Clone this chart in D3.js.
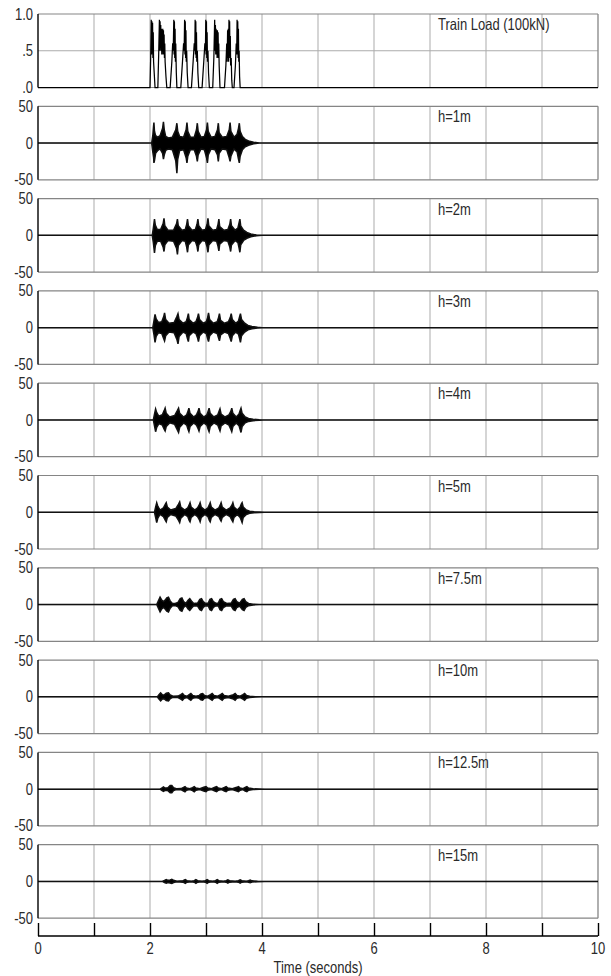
<!DOCTYPE html>
<html><head><meta charset="utf-8">
<script src="https://cdn.jsdelivr.net/npm/d3@7"></script>
<style>
body{margin:0;background:#fff;}
svg{display:block;}
text{font-family:"Liberation Sans",Arial,sans-serif;}
</style></head>
<body>
<script>
// ---------------- DATA ----------------
const panelLabels = ["Train Load (100kN)","h=1m","h=2m","h=3m","h=4m","h=5m","h=7.5m","h=10m","h=12.5m","h=15m"];
const xTicks = [0,1,2,3,4,5,6,7,8,9,10];
const xTickLabels = ["0","","2","","4","","6","","8","","10"];
const loadTicks = [0,0.5,1];
const loadTickLabels = [".0",".5","1.0"];
const respTicks = [-50,0,50];
const respTickLabels = ["-50","0","50"];

// train load (t [s], load [100kN])
const loadPoints = [[0,0],
[2.00,0],[2.012,0.4],[2.022,0.92],[2.028,0.45],[2.034,0.9],[2.04,0.5],[2.046,0.88],[2.052,0.4],[2.058,0.75],[2.064,0.35],[2.075,0.2],[2.09,0],
[2.14,0],[2.155,0.45],[2.168,0.92],[2.174,0.5],[2.18,0.9],[2.186,0.55],[2.192,0.85],[2.198,0.5],[2.204,0.8],[2.21,0.45],[2.216,0.78],[2.222,0.5],[2.228,0.8],[2.234,0.45],[2.24,0.78],[2.246,0.5],[2.252,0.72],[2.258,0.4],[2.264,0.6],[2.27,0.35],[2.285,0.15],[2.30,0],
[2.36,0],[2.39,0.35],[2.405,0.6],[2.415,0.5],[2.425,0.92],[2.43,0.45],[2.436,0.9],[2.442,0.4],[2.448,0.8],[2.454,0.35],[2.46,0.6],[2.47,0.2],[2.48,0],
[2.55,0],[2.58,0.35],[2.60,0.6],[2.61,0.5],[2.618,0.92],[2.624,0.45],[2.63,0.9],[2.636,0.4],[2.642,0.78],[2.648,0.35],[2.655,0.5],[2.665,0.2],[2.68,0],
[2.74,0],[2.77,0.35],[2.79,0.6],[2.80,0.5],[2.806,0.92],[2.812,0.45],[2.818,0.9],[2.824,0.4],[2.83,0.75],[2.836,0.35],[2.845,0.5],[2.855,0.2],[2.87,0],
[2.93,0],[2.96,0.35],[2.98,0.6],[2.99,0.5],[2.996,0.92],[3.002,0.45],[3.008,0.9],[3.014,0.4],[3.02,0.75],[3.026,0.35],[3.035,0.5],[3.045,0.2],[3.06,0],
[3.12,0],[3.14,0.4],[3.155,0.92],[3.162,0.5],[3.168,0.85],[3.174,0.45],[3.18,0.8],[3.186,0.45],[3.192,0.78],[3.198,0.4],[3.204,0.78],[3.21,0.42],[3.216,0.75],[3.222,0.4],[3.228,0.6],[3.235,0.3],[3.25,0],
[3.33,0],[3.355,0.3],[3.37,0.6],[3.378,0.35],[3.386,0.78],[3.392,0.4],[3.398,0.8],[3.404,0.35],[3.41,0.92],[3.416,0.45],[3.422,0.9],[3.428,0.4],[3.434,0.7],[3.44,0.3],[3.45,0.4],[3.46,0.1],[3.47,0],
[3.50,0],[3.525,0.3],[3.54,0.6],[3.548,0.45],[3.555,0.92],[3.561,0.45],[3.567,0.9],[3.573,0.4],[3.579,0.8],[3.585,0.35],[3.592,0.5],[3.60,0.15],[3.61,0],
[10,0]];

// response envelopes: [t, upper, lower]
const env1m = [[0,0,0],[2.03,0,0],[2.05,10,-12],[2.065,24,-20],[2.07,28,-27],[2.08,16,-24],[2.10,10,-14],[2.14,8,-10],[2.18,10,-8],[2.225,20,-14],[2.24,29,-22],[2.255,18,-16],[2.28,9,-10],[2.33,7,-8],[2.40,8,-9],[2.46,18,-24],[2.48,27,-41],[2.495,16,-22],[2.53,9,-10],[2.60,8,-9],[2.645,18,-20],[2.66,28,-27],[2.675,16,-18],[2.72,8,-9],[2.79,8,-9],[2.83,18,-18],[2.845,27,-25],[2.86,16,-16],[2.91,8,-8],[2.97,9,-9],[3.01,18,-20],[3.025,28,-27],[3.04,16,-16],[3.09,8,-8],[3.16,9,-9],[3.205,18,-16],[3.22,27,-25],[3.235,14,-14],[3.29,8,-8],[3.37,9,-9],[3.415,18,-20],[3.43,28,-25],[3.445,16,-18],[3.50,8,-8],[3.555,12,-12],[3.58,20,-22],[3.595,27,-27],[3.61,16,-18],[3.65,9,-9],[3.70,5,-5],[3.76,3,-3],[3.85,1,-1],[3.95,0,0],[10,0,0]];
const env2m = [[0,0,0],[2.04,0,0],[2.06,10,-10],[2.08,22,-24],[2.095,14,-14],[2.13,8,-8],[2.19,8,-8],[2.235,16,-16],[2.25,23,-22],[2.265,13,-13],[2.32,7,-7],[2.42,7,-8],[2.475,16,-18],[2.49,22,-26],[2.505,13,-14],[2.57,7,-7],[2.63,8,-8],[2.655,15,-16],[2.67,22,-23],[2.685,13,-13],[2.75,7,-7],[2.81,8,-8],[2.84,15,-15],[2.855,22,-22],[2.87,13,-13],[2.93,7,-7],[2.99,8,-8],[3.02,15,-16],[3.035,23,-23],[3.05,13,-13],[3.12,7,-7],[3.19,8,-8],[3.215,15,-15],[3.23,22,-21],[3.245,12,-12],[3.32,7,-7],[3.39,8,-8],[3.425,15,-16],[3.44,22,-22],[3.455,13,-13],[3.52,7,-7],[3.57,10,-10],[3.59,17,-17],[3.605,22,-23],[3.62,13,-13],[3.67,7,-7],[3.73,4,-4],[3.80,2,-2],[3.9,0.5,-0.5],[4.0,0,0],[10,0,0]];
const env3m = [[0,0,0],[2.05,0,0],[2.07,9,-9],[2.09,18,-20],[2.11,12,-12],[2.15,7,-7],[2.21,8,-8],[2.245,15,-15],[2.26,20,-18],[2.28,11,-11],[2.34,6,-6],[2.43,7,-7],[2.48,15,-16],[2.50,19,-22],[2.52,11,-12],[2.59,6,-6],[2.645,8,-8],[2.67,14,-15],[2.685,19,-19],[2.70,11,-11],[2.77,6,-6],[2.82,8,-8],[2.85,14,-14],[2.865,19,-19],[2.885,11,-11],[2.95,6,-6],[3.005,8,-8],[3.03,14,-15],[3.045,20,-19],[3.065,11,-11],[3.13,6,-6],[3.20,8,-8],[3.225,14,-14],[3.24,19,-18],[3.26,10,-10],[3.33,6,-6],[3.40,8,-8],[3.435,14,-15],[3.45,19,-19],[3.47,11,-11],[3.53,6,-6],[3.58,9,-9],[3.60,15,-15],[3.615,19,-20],[3.635,11,-11],[3.69,6,-6],[3.75,3,-3],[3.82,1.5,-1.5],[3.92,0.5,-0.5],[4.0,0,0],[10,0,0]];
const env4m = [[0,0,0],[2.06,0,0],[2.08,8,-8],[2.10,15,-16],[2.12,10,-10],[2.16,5,-5],[2.22,7,-7],[2.255,13,-13],[2.27,16,-15],[2.29,9,-9],[2.35,4,-4],[2.44,6,-6],[2.49,13,-14],[2.51,16,-17],[2.53,9,-10],[2.60,4,-4],[2.655,7,-7],[2.68,12,-13],[2.695,16,-16],[2.715,9,-9],[2.78,4,-4],[2.83,7,-7],[2.86,12,-12],[2.875,16,-15],[2.895,9,-9],[2.96,4,-4],[3.015,7,-7],[3.04,12,-13],[3.055,16,-16],[3.075,9,-9],[3.14,4,-4],[3.21,7,-7],[3.235,12,-12],[3.25,15,-15],[3.27,8,-8],[3.34,4,-4],[3.41,7,-7],[3.445,12,-13],[3.46,16,-16],[3.48,9,-9],[3.54,4,-4],[3.59,8,-8],[3.61,13,-13],[3.625,16,-17],[3.645,9,-9],[3.70,4,-4],[3.76,2,-2],[3.84,1,-1],[3.95,0.3,-0.3],[4.02,0,0],[10,0,0]];
const env5m = [[0,0,0],[2.08,0,0],[2.10,7,-7],[2.12,13,-14],[2.14,8,-8],[2.18,3,-3],[2.24,6,-6],[2.275,11,-11],[2.29,13,-13],[2.31,7,-7],[2.37,3,-3],[2.46,5,-5],[2.51,11,-11],[2.53,14,-14],[2.55,7,-8],[2.62,3,-3],[2.675,6,-6],[2.70,10,-11],[2.715,13,-13],[2.735,7,-7],[2.80,3,-3],[2.85,6,-6],[2.88,10,-10],[2.895,13,-13],[2.915,7,-7],[2.98,3,-3],[3.035,6,-6],[3.06,10,-11],[3.075,13,-13],[3.095,7,-7],[3.16,3,-3],[3.23,6,-6],[3.255,10,-10],[3.27,13,-12],[3.29,7,-7],[3.36,3,-3],[3.43,6,-6],[3.465,10,-11],[3.48,13,-13],[3.50,7,-7],[3.56,3,-3],[3.61,7,-7],[3.63,11,-11],[3.645,13,-14],[3.665,7,-7],[3.72,3,-3],[3.78,1.5,-1.5],[3.86,0.6,-0.6],[3.96,0.2,-0.2],[4.04,0,0],[10,0,0]];
const env7m5 = [[0,0,0],[2.12,0,0],[2.15,5,-5],[2.18,10,-10],[2.21,6,-6],[2.24,4,-4],[2.27,6,-6],[2.30,9,-9],[2.33,10,-10],[2.36,5,-5],[2.40,1.5,-1.5],[2.45,1.5,-1.5],[2.50,3,-3],[2.54,8,-8],[2.57,9,-9],[2.60,4,-4],[2.64,1.5,-1.5],[2.68,6,-6],[2.71,8,-8],[2.74,5,-5],[2.78,1.5,-1.5],[2.85,2,-2],[2.89,7,-7],[2.92,8,-8],[2.95,4,-4],[2.99,1.5,-1.5],[3.04,2,-2],[3.07,7,-7],[3.10,8,-8],[3.13,4,-4],[3.18,1.5,-1.5],[3.22,2,-2],[3.25,7,-7],[3.28,8,-8],[3.31,4,-4],[3.37,1.5,-1.5],[3.45,2,-2],[3.49,7,-7],[3.52,8,-8],[3.55,4,-4],[3.60,2,-2],[3.65,7,-7],[3.68,8,-8],[3.71,4,-4],[3.76,1.5,-1.5],[3.84,0.5,-0.5],[3.95,0,0],[10,0,0]];
const env10m = [[0,0,0],[2.13,0,0],[2.16,3,-3],[2.19,5.5,-5.5],[2.22,3,-3],[2.25,2.5,-2.5],[2.29,5,-5],[2.33,5.5,-5.5],[2.36,2.5,-2.5],[2.41,0.8,-0.8],[2.50,1,-1],[2.55,3,-3],[2.58,4.5,-4.5],[2.61,2,-2],[2.66,0.8,-0.8],[2.70,3,-3],[2.73,4.5,-4.5],[2.76,2,-2],[2.82,0.8,-0.8],[2.88,2,-2],[2.91,4,-4],[2.94,4.5,-4.5],[2.97,2,-2],[3.03,0.8,-0.8],[3.08,3,-3],[3.11,4.5,-4.5],[3.14,2,-2],[3.21,0.8,-0.8],[3.26,3,-3],[3.29,4.5,-4.5],[3.32,2,-2],[3.40,0.8,-0.8],[3.49,3,-3],[3.52,4.5,-4.5],[3.55,2,-2],[3.61,1,-1],[3.66,3,-3],[3.69,4.5,-4.5],[3.72,2,-2],[3.78,0.8,-0.8],[3.88,0.3,-0.3],[3.98,0,0],[10,0,0]];
const env12m5 = [[0,0,0],[2.18,0,0],[2.21,1.5,-1.5],[2.24,3,-3],[2.27,1.5,-1.5],[2.32,2,-2],[2.36,5,-5],[2.39,5,-5],[2.42,2,-2],[2.47,0.6,-0.6],[2.56,0.8,-0.8],[2.60,2.5,-2.5],[2.625,3.5,-3.5],[2.65,1.5,-1.5],[2.71,0.6,-0.6],[2.76,2,-2],[2.79,3.5,-3.5],[2.82,1.5,-1.5],[2.89,0.6,-0.6],[2.96,2.5,-2.5],[3.0,3.5,-3.5],[3.03,1.5,-1.5],[3.10,0.6,-0.6],[3.16,2.5,-2.5],[3.19,3.5,-3.5],[3.22,1.5,-1.5],[3.28,0.6,-0.6],[3.33,2.5,-2.5],[3.36,3.5,-3.5],[3.39,1.5,-1.5],[3.47,0.6,-0.6],[3.55,2.5,-2.5],[3.58,3.5,-3.5],[3.61,1.5,-1.5],[3.66,0.6,-0.6],[3.70,2.5,-2.5],[3.73,3.5,-3.5],[3.76,1.5,-1.5],[3.84,0.5,-0.5],[3.95,0.2,-0.2],[4.05,0,0],[10,0,0]];
const env15m = [[0,0,0],[2.22,0,0],[2.26,1.5,-1.5],[2.29,2.5,-2.5],[2.32,1.5,-1.5],[2.36,2,-2],[2.39,2.8,-2.8],[2.42,1.5,-1.5],[2.48,0.4,-0.4],[2.59,1,-1],[2.63,2.5,-2.5],[2.66,1,-1],[2.74,0.4,-0.4],[2.79,1,-1],[2.82,2.5,-2.5],[2.85,1,-1],[2.93,0.4,-0.4],[2.99,1,-1],[3.02,2.5,-2.5],[3.05,1,-1],[3.12,0.4,-0.4],[3.17,1,-1],[3.20,2.5,-2.5],[3.23,1,-1],[3.31,0.4,-0.4],[3.36,1,-1],[3.39,2.2,-2.2],[3.42,1,-1],[3.52,0.4,-0.4],[3.58,1,-1],[3.61,2.2,-2.2],[3.64,1,-1],[3.72,0.4,-0.4],[3.76,1,-1],[3.79,1.8,-1.8],[3.82,0.8,-0.8],[3.92,0.3,-0.3],[4.05,0,0],[10,0,0]];
const envelopes = [env1m,env2m,env3m,env4m,env5m,env7m5,env10m,env12m5,env15m];

// ---------------- LAYOUT ----------------
const W = 611, H = 976;
const left = 38, right = 598;
const firstTop = 14, stride = 92.3, ph = 73.5;
const axisY = 936, tickLen = 13;
const stretch = 1.22;

const svg = d3.select("body").append("svg").attr("width",W).attr("height",H);
const x = d3.scaleLinear().domain([0,10]).range([left,right]);

const gridColor = "#ababab", borderColor = "#858585", textColor = "#2a2a2a";

function label(px, py, str, anchor, dy){
  svg.append("text")
    .attr("transform",`translate(${px},${py}) scale(1,${stretch})`)
    .attr("text-anchor",anchor).attr("dy",dy)
    .attr("fill",textColor).style("font-size","13px").text(str);
}

panelLabels.forEach((lab,i)=>{
  const top = firstTop + i*stride, bot = top + ph;
  const isLoad = i===0;
  const y = d3.scaleLinear().domain(isLoad?[0,1]:[-50,50]).range([bot,top]);
  const g = svg.append("g");
  // vertical grid
  g.selectAll("line.vg").data(xTicks.slice(1,-1)).enter().append("line")
    .attr("x1",d=>x(d)).attr("x2",d=>x(d)).attr("y1",top).attr("y2",bot)
    .attr("stroke",gridColor).attr("stroke-width",1);
  // horizontal grid
  const yt = isLoad?loadTicks:respTicks;
  g.selectAll("line.hg").data(yt).enter().append("line")
    .attr("x1",left).attr("x2",right).attr("y1",d=>y(d)).attr("y2",d=>y(d))
    .attr("stroke",(d,j)=> (j===yt.length-1||j===0)?borderColor:gridColor).attr("stroke-width",1.2);
  // right border
  g.append("line").attr("x1",right).attr("x2",right).attr("y1",top).attr("y2",bot)
    .attr("stroke",borderColor).attr("stroke-width",1.3);
  // data
  if(isLoad){
    g.append("path").datum(loadPoints)
      .attr("d",d3.line().x(d=>x(d[0])).y(d=>y(d[1])))
      .attr("fill","none").attr("stroke","#000").attr("stroke-width",1.25);
  } else {
    const env = envelopes[i-1];
    g.append("path").datum(env)
      .attr("d",d3.area().x(d=>x(d[0])).y0(d=>y(d[2])).y1(d=>y(d[1])))
      .attr("fill","#000").attr("stroke","#111").attr("stroke-width",1.5);
  }
  // left axis labels via scale
  const labs = isLoad?loadTickLabels:respTickLabels;
  yt.forEach((v,j)=> label(left-5, y(v), labs[j], "end", "0.35em"));
  svg.append("line").attr("x1",left).attr("x2",left).attr("y1",top).attr("y2",bot)
    .attr("stroke","#000").attr("stroke-width",1.4);
  // panel label
  label(438, top+16, lab, "start", "0");
});

// bottom time axis
const xa = d3.axisTop(x).tickValues(xTicks).tickSize(tickLen).tickFormat("");
const xg = svg.append("g").attr("transform",`translate(0,${axisY})`).call(xa);
xg.select(".domain").attr("d",`M${left},0H${right}`).attr("stroke","#000").attr("stroke-width",1.4);
xg.selectAll(".tick line").attr("stroke","#000").attr("stroke-width",1.4);
xTicks.forEach((v,j)=>{ if(xTickLabels[j]) label(x(v), axisY+18, xTickLabels[j], "middle", "0"); });
label((left+right)/2, 973, "Time (seconds)", "middle", "0");
</script>
</body></html>
